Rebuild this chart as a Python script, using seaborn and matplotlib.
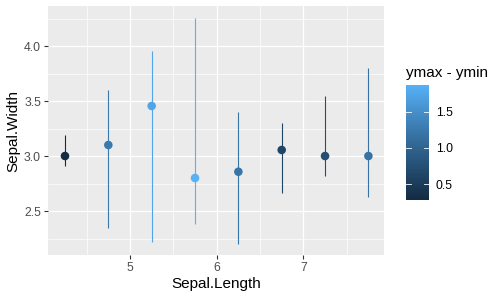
import numpy as np
import pandas as pd
import matplotlib
matplotlib.use("Agg")
import matplotlib.pyplot as plt
import matplotlib.colors as mcolors
import seaborn as sns

sepal_length = [4.25, 4.75, 5.25, 5.75, 6.25, 6.75, 7.25, 7.75]
sepal_width = [3.00, 3.10, 3.455, 2.80, 2.857, 3.055, 3.00, 3.00]
ymin = [2.91, 2.35, 2.22, 2.385, 2.20, 2.667, 2.82, 2.63]
ymax = [3.19, 3.60, 3.955, 4.255, 3.40, 3.30, 3.545, 3.80]
x_ticks = [5, 6, 7]
y_ticks = [2.5, 3.0, 3.5, 4.0]
cbar_ticks = [0.5, 1.0, 1.5]

df = pd.DataFrame({"x": sepal_length, "y": sepal_width, "ymin": ymin, "ymax": ymax})
df["rng"] = df["ymax"] - df["ymin"]


# ggplot-like gradient interpolated in Lab space
def srgb_to_lab(c):
    c = np.asarray(c, float)
    lin = np.where(c <= 0.04045, c / 12.92, ((c + 0.055) / 1.055) ** 2.4)
    M = np.array([[0.4124, 0.3576, 0.1805], [0.2126, 0.7152, 0.0722], [0.0193, 0.1192, 0.9505]])
    xyz = M @ lin
    wp = np.array([0.95047, 1.0, 1.08883])
    t = xyz / wp
    f = np.where(t > (6 / 29) ** 3, np.cbrt(t), t / (3 * (6 / 29) ** 2) + 4 / 29)
    return np.array([116 * f[1] - 16, 500 * (f[0] - f[1]), 200 * (f[1] - f[2])])


def lab_to_srgb(lab):
    L, a, b = lab
    fy = (L + 16) / 116
    fx = fy + a / 500
    fz = fy - b / 200
    f = np.array([fx, fy, fz])
    t = np.where(f > 6 / 29, f ** 3, 3 * (6 / 29) ** 2 * (f - 4 / 29))
    xyz = t * np.array([0.95047, 1.0, 1.08883])
    Minv = np.array([[3.2406, -1.5372, -0.4986], [-0.9689, 1.8758, 0.0415], [0.0557, -0.2040, 1.0570]])
    lin = Minv @ xyz
    lin = np.clip(lin, 0, 1)
    return np.where(lin <= 0.0031308, 12.92 * lin, 1.055 * lin ** (1 / 2.4) - 0.055)


lo = srgb_to_lab(mcolors.to_rgb("#132B43"))
hi = srgb_to_lab(mcolors.to_rgb("#56B1F7"))
stops = [np.clip(lab_to_srgb(lo + (hi - lo) * t), 0, 1) for t in np.linspace(0, 1, 32)]
cmap = mcolors.LinearSegmentedColormap.from_list("gg", stops)
norm = mcolors.Normalize(vmin=df["rng"].min(), vmax=df["rng"].max())

plt.rcParams["font.family"] = ["Liberation Sans", "DejaVu Sans"]
fig = plt.figure(figsize=(5, 3), dpi=100)
ax = fig.add_axes([0.096, 0.15, 0.672, 0.83])
ax.set_facecolor("#EBEBEB")

ax.vlines(df["x"], df["ymin"], df["ymax"], colors=cmap(norm(df["rng"])), linewidth=0.8, zorder=3)
sns.scatterplot(data=df, x="x", y="y", hue="rng", palette=cmap, hue_norm=norm,
                s=38, linewidth=0, legend=False, ax=ax, zorder=4)

ax.set_xlim(4.054, 7.93)
ax.set_ylim(2.1, 4.364)
ax.set_xticks(x_ticks)
ax.set_xticklabels([str(v) for v in x_ticks])
ax.set_yticks(y_ticks)
ax.set_yticklabels([f"{v:.1f}" for v in y_ticks])
ax.set_xticks([4.5, 5.5, 6.5, 7.5], minor=True)
ax.set_yticks([2.25, 2.75, 3.25, 3.75, 4.25], minor=True)
ax.grid(which="major", color="white", linewidth=0.9, zorder=0)
ax.grid(which="minor", color="white", linewidth=0.5, zorder=0)
ax.set_axisbelow(True)
for s in ax.spines.values():
    s.set_visible(False)
ax.tick_params(which="major", length=3, width=0.8, color="#333333", labelcolor="#4D4D4D",
               labelsize=8.8, pad=2)
ax.tick_params(which="minor", length=0)
ax.set_xlabel("Sepal.Length", fontsize=11, color="black", labelpad=2)
ax.set_ylabel("Sepal.Width", fontsize=11, color="black", labelpad=3)

# colourbar
cax = fig.add_axes([406 / 500, 1 - 200 / 300, 23 / 500, 115 / 300])
sm = matplotlib.cm.ScalarMappable(norm=norm, cmap=cmap)
cb = fig.colorbar(sm, cax=cax)
cb.outline.set_visible(False)
cb.set_ticks(cbar_ticks)
cb.set_ticklabels([f"{v:.1f}" for v in cbar_ticks])
cax.tick_params(length=0, labelsize=8.8, labelcolor="black", pad=5)
for v in cbar_ticks:
    yv = norm(v)
    cax.plot([0, 0.2], [v, v], color="white", linewidth=0.6, transform=cax.get_yaxis_transform())
    cax.plot([0.8, 1.0], [v, v], color="white", linewidth=0.6, transform=cax.get_yaxis_transform())
fig.text(406 / 500, 1 - 73 / 300, "ymax - ymin", fontsize=11, ha="left", va="center", color="black")

fig.savefig("out.png", dpi=100)
